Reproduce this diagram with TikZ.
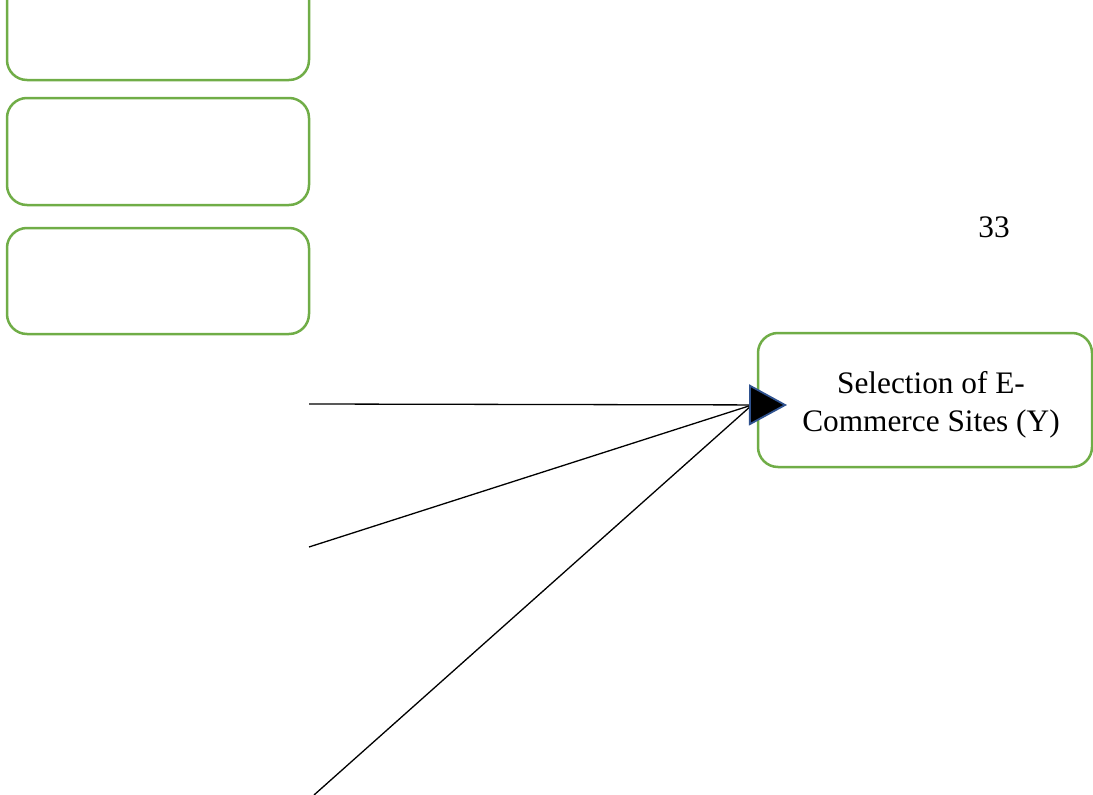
\documentclass[tikz,border=0pt]{standalone}
\usepackage{fontspec}
\setmainfont{Liberation Serif}
\usetikzlibrary{arrows.meta}
\definecolor{boxgreen}{HTML}{70AD47}
\definecolor{tipblue}{HTML}{2F528F}
\begin{document}
\begin{tikzpicture}[x=1pt,y=-1pt,
  box/.style={draw=boxgreen, line width=2.5pt, rounded corners=20pt, rectangle, inner sep=0pt},
  link/.style={draw=black, line width=1.3pt},
  lbl/.style={font=\fontsize{31.3}{38}\selectfont, align=center, inner sep=0pt}]
\useasboundingbox (0,0) rectangle (1093,795);
\clip (0,0) rectangle (1093,795);
\node[box, minimum width=302pt, minimum height=107pt] (b1) at (158,26.5) {};
\node[box, minimum width=302pt, minimum height=107pt] (b2) at (158,151.5) {};
\node[box, minimum width=302pt, minimum height=106pt] (b3) at (158,281) {};
\node[box, minimum width=334pt, minimum height=134pt] (y) at (925,400) {};
\node[lbl] (ytext) at (931,405) {Selection of E-\\Commerce Sites (Y)};
\node[lbl] (page) at (994,227) {33};
\coordinate (s1) at (309,404);
\coordinate (s2) at (309,547);
\coordinate (s3) at (314,795);
\coordinate (tip) at (787,405);
\coordinate (join) at (752,405);
\draw[link] (s2) -- (join);
\draw[link] (s3) -- (join);
\draw[link, -{Triangle[length=38pt,width=41pt,color=tipblue,fill=black,line width=1.8pt]}] (s1) -- (tip);
\end{tikzpicture}
\end{document}
